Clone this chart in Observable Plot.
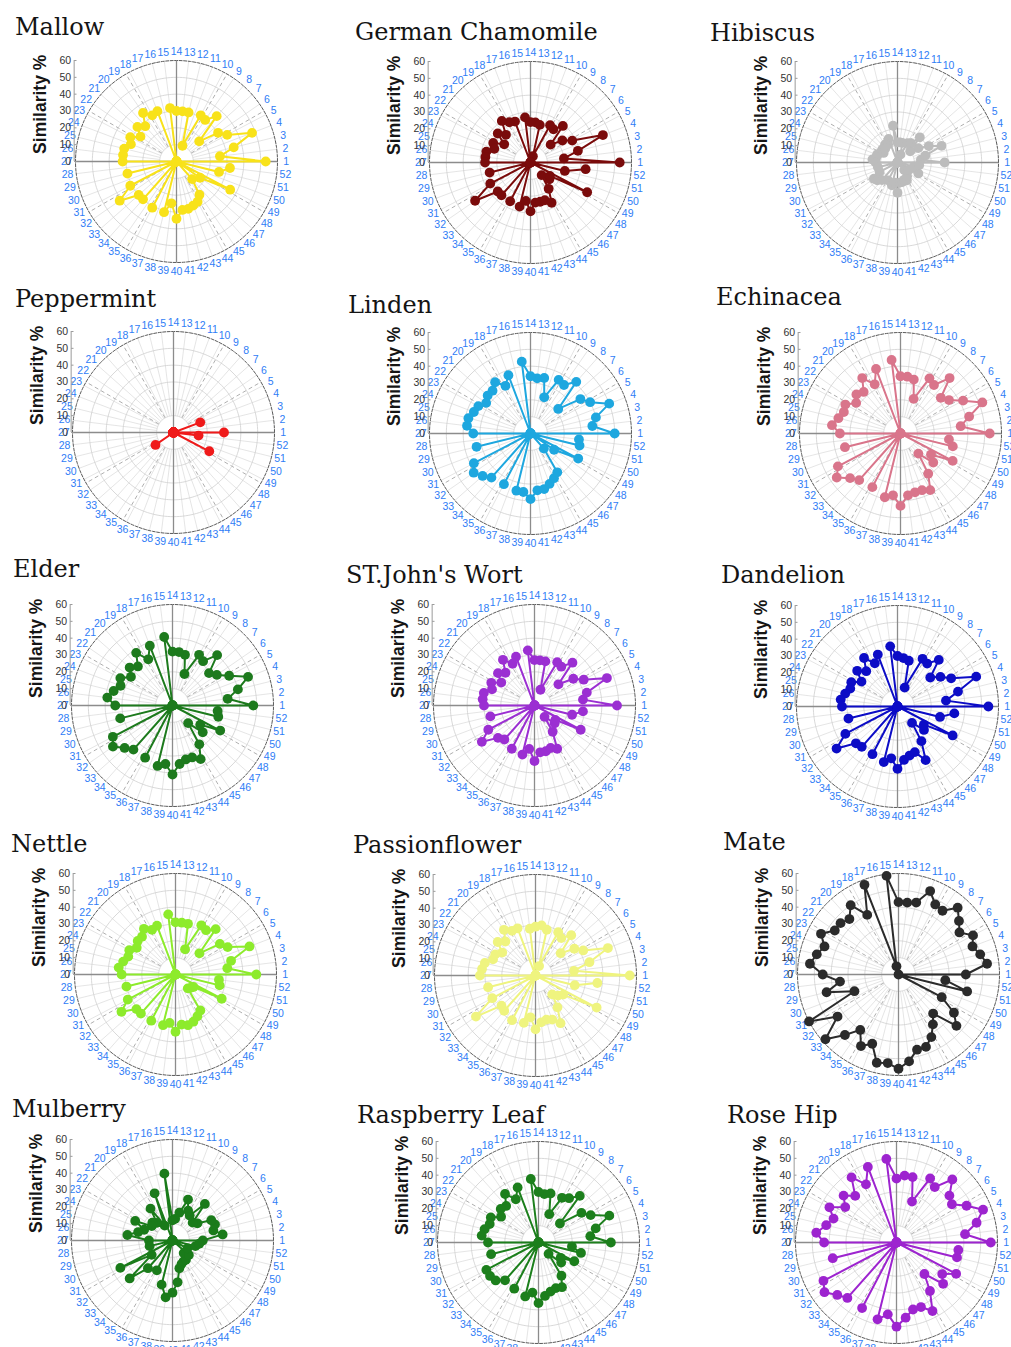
<!DOCTYPE html>
<html>
<head>
<meta charset="utf-8">
<script src="https://cdn.jsdelivr.net/npm/d3@7"></script>
<script src="https://cdn.jsdelivr.net/npm/@observablehq/plot@0.6"></script>
<style>
  html, body { margin: 0; padding: 0; background: #fff; }
  #page { position: relative; width: 1011px; height: 1347px; overflow: hidden; background: #fff; }
  .title { position: absolute; font-family: "DejaVu Serif", serif; font-size: 24px; line-height: 24px; color: #141414; white-space: nowrap; }
  .panel { position: absolute; }
</style>
</head>
<body>
<div id="page"></div>
<script>
// Weekly similarity (%) for each herb, weeks 1..52; 0 = no similarity that week
const mallow       = [53,26,35,48,34,30,18,36,30,31,10,30,30,30,32,0,32,31,35,28,31,26,31,29,32,32,32,0,30,0,31,41,30,30,0,31,0,31,25,34,29,29,28,27,24,14,0,17,36,0,26,32];
const chamomile    = [53,20,29,46,28,23,16,29,24,25,4,23,24,24,27,0,26,27,30,22,26,19,25,23,27,27,27,0,25,0,27,40,26,26,0,26,0,27,23,29,24,24,24,27,19,10,15,14,38,0,21,33];
const hibiscus     = [28,14,17,28,21,15,10,20,14,13,5,12,12,12,22,0,15,12,13,11,12,10,12,13,13,15,13,0,12,0,12,17,16,14,0,12,0,14,12,18,12,12,11,12,10,6,0,8,14,0,10,13];
const peppermint   = [30,0,0,17,0,0,0,0,0,0,0,0,0,0,0,0,0,0,0,0,0,0,0,0,0,0,0,0,0,0,0,13,0,0,0,0,0,0,0,0,0,0,0,0,0,0,0,0,24,0,0,15];
const linden       = [50,37,40,50,40,36,22,41,35,36,23,34,33,34,43,0,37,32,37,34,34,32,35,36,38,38,34,0,33,0,38,41,38,35,0,34,0,35,35,39,34,34,32,30,28,12,0,17,32,0,30,29];
const echinacea    = [53,36,42,52,42,35,32,44,35,37,22,33,34,34,44,0,41,33,40,33,35,32,37,36,38,41,36,0,34,0,42,46,40,37,0,36,0,39,37,43,37,36,36,38,29,16,26,22,35,0,32,29];
const elder        = [48,33,40,48,38,32,29,40,32,34,20,31,32,32,41,0,38,31,38,31,34,30,35,33,36,39,34,0,32,0,40,43,38,35,0,35,0,37,35,41,35,33,33,36,28,14,24,20,32,0,28,27];
const stJohns      = [49,29,32,46,33,28,19,34,28,29,10,27,27,27,33,0,31,28,33,26,29,24,29,27,31,31,30,0,27,0,31,38,29,27,0,29,0,30,26,33,28,28,27,29,19,9,16,15,31,0,23,29];
const dandelion    = [54,29,37,50,36,31,26,37,31,32,12,28,29,30,36,0,33,29,35,28,32,26,31,30,32,34,33,0,30,0,35,44,33,32,0,32,0,34,31,37,32,30,29,36,25,13,21,19,37,0,26,34];
const nettle       = [48,31,34,47,35,32,19,36,32,33,16,31,31,31,36,0,31,30,33,30,30,28,31,30,32,34,32,0,30,0,32,39,31,31,0,31,0,31,29,34,30,31,30,28,26,11,12,13,31,0,27,26];
const passionflower= [56,23,33,46,32,28,20,32,27,29,6,28,30,29,28,0,30,30,33,27,30,24,27,27,31,32,33,0,29,0,29,43,27,28,0,30,0,29,25,32,28,27,28,32,23,15,18,20,41,0,24,37];
const mate         = [40,53,50,47,50,44,48,53,46,47,53,44,43,43,59,5,57,40,50,44,46,46,52,47,50,53,45,35,44,28,60,44,58,48,40,48,44,54,53,56,52,46,46,42,36,31,46,40,29,0,42,28];
const mulberry     = [18,30,25,27,26,18,16,29,18,20,26,17,13,12,40,0,30,10,23,14,16,15,25,18,21,27,14,0,14,0,35,15,34,22,0,20,0,27,34,31,25,17,15,14,14,10,13,0,10,0,14,16];
const raspberry    = [43,31,35,45,35,31,17,37,32,30,18,30,29,30,38,0,35,29,35,29,30,27,32,31,33,34,30,0,29,0,35,35,34,30,0,31,0,33,30,36,32,30,29,30,24,9,18,16,24,0,26,20];
const roseHip      = [56,41,49,55,47,40,42,50,40,43,26,40,40,38,50,0,48,39,47,37,42,37,45,40,43,48,43,0,39,0,49,52,47,44,0,44,0,47,43,50,45,41,41,46,35,25,37,33,40,0,37,37];

const herbNames = ["Mallow", "German Chamomile", "Hibiscus", "Peppermint", "Linden", "Echinacea",
  "Elder", "ST.John's Wort", "Dandelion", "Nettle", "Passionflower", "Mate",
  "Mulberry", "Raspberry Leaf", "Rose Hip"];
const herbSeries = [mallow, chamomile, hibiscus, peppermint, linden, echinacea,
  elder, stJohns, dandelion, nettle, passionflower, mate, mulberry, raspberry, roseHip];
const herbColors = ["#f8e21a", "#7a0b0b", "#bcbcbc", "#ef1a1a", "#1ea7df", "#d9758b",
  "#1d7a1d", "#9b2fd2", "#0c0cc6", "#8deb2c", "#eff47f", "#2b2b2b", "#1a7b1a", "#1c7f1c", "#9d24cf"];

// axis labels
const weeks = d3.range(1, 53);
const radialTicks = [0, 10, 20, 30, 40, 50, 60];
const ringValues = [10, 20, 30, 40, 50];

// page layout: plot centre (cx, cy) and title anchor (tx, baseline ty)
const layout = [
  {cx: 176, cy: 161, tx: 15, ty: 35}, {cx: 530, cy: 162, tx: 355, ty: 40}, {cx: 897, cy: 162, tx: 710, ty: 41},
  {cx: 173, cy: 432, tx: 15, ty: 307}, {cx: 530, cy: 433, tx: 348, ty: 313}, {cx: 900, cy: 433, tx: 716, ty: 305},
  {cx: 172, cy: 705, tx: 13, ty: 577}, {cx: 534, cy: 705, tx: 346, ty: 583}, {cx: 897, cy: 706, tx: 721, ty: 583},
  {cx: 175, cy: 974, tx: 11, ty: 852}, {cx: 535, cy: 975, tx: 353, ty: 853}, {cx: 898, cy: 974, tx: 723, ty: 850},
  {cx: 172, cy: 1240, tx: 12, ty: 1117}, {cx: 538, cy: 1242, tx: 357, ty: 1123}, {cx: 896, cy: 1242, tx: 727, ty: 1123}
];

const RADIUS_PX = 101;   // pixel radius of the 60 % ring
const R_MAX = 60;
const theta = w => (w - 1) * 2 * Math.PI / 52;   // week 1 at east, counter-clockwise
const px = (r, a) => r * Math.cos(a);
const py = (r, a) => r * Math.sin(a);
const circle = r => d3.range(0, 361, 2).map(deg => ({x: px(r, deg * Math.PI / 180), y: py(r, deg * Math.PI / 180)}));

const page = document.getElementById("page");

function drawPanel(name, values, color, pos) {
  const W = 300, H = 250, ox = 168, oy = 124;
  // polyline starts at the origin and runs through the weeks in order
  const pts = [{x: 0, y: 0}].concat(values.map((v, i) => ({week: i + 1, value: v, x: px(v, theta(i + 1)), y: py(v, theta(i + 1))})));
  const dashedSpokes = [30, 60, 120, 150, 210, 240, 300, 330].map(d => d * Math.PI / 180);

  const svg = Plot.plot({
    width: W, height: H, margin: 0,
    style: {background: "transparent", overflow: "visible", fontFamily: "'Liberation Sans', Arial, sans-serif"},
    x: {domain: [-R_MAX, R_MAX], range: [ox - RADIUS_PX, ox + RADIUS_PX], axis: null},
    y: {domain: [-R_MAX, R_MAX], range: [oy + RADIUS_PX, oy - RADIUS_PX], axis: null},
    marks: [
      // week spokes
      Plot.link(weeks, {x1: w => px(10, theta(w)), y1: w => py(10, theta(w)), x2: w => px(R_MAX, theta(w)), y2: w => py(R_MAX, theta(w)), stroke: "#dadada", strokeWidth: 0.7}),
      Plot.link(dashedSpokes, {x1: a => px(10, a), y1: a => py(10, a), x2: a => px(R_MAX, a), y2: a => py(R_MAX, a), stroke: "#9a9a9a", strokeWidth: 0.8, strokeDasharray: "4,3"}),
      // rings
      ...ringValues.map(r => Plot.line(circle(r), {x: "x", y: "y", stroke: "#cfcfcf", strokeWidth: 0.8})),
      Plot.line(circle(R_MAX), {x: "x", y: "y", stroke: "#5a5a5a", strokeWidth: 1, strokeDasharray: "3,1.5"}),
      // main axes through the centre
      Plot.link([0, Math.PI / 2], {x1: a => px(-R_MAX, a), y1: a => py(-R_MAX, a), x2: a => px(R_MAX, a), y2: a => py(R_MAX, a), stroke: "#8c8c8c", strokeWidth: 1.3}),
      // week labels
      Plot.text(weeks, {x: w => px(65.2, theta(w)), y: w => py(65.2, theta(w)), text: d => String(d), fill: "#2f7df6", fontSize: 10.5, textAnchor: "middle", lineAnchor: "middle"}),
      // radial value axis on the left
      Plot.ruleX([-R_MAX - 0.8], {y1: 0, y2: R_MAX, stroke: "#9a9a9a", strokeWidth: 1}),
      Plot.link(radialTicks, {x1: -R_MAX - 0.8, x2: -R_MAX + 0.6, y1: d => d, y2: d => d, stroke: "#9a9a9a"}),
      Plot.text(radialTicks, {x: -R_MAX - 0.8, y: d => d, text: d => String(d), dx: -3, textAnchor: "end", fill: "#333", fontSize: 10.5}),
      Plot.text(["Similarity %"], {x: -R_MAX - 21, y: 34, text: d => d, rotate: -90, fontSize: 17.5, fontWeight: "bold", fill: "#151515"}),
      // similarity series
      Plot.line(pts, {x: "x", y: "y", stroke: color, strokeWidth: 2, curve: "linear"}),
      Plot.dot(pts.slice(1), {x: "x", y: "y", r: 4.9, fill: color, stroke: "none"})
    ]
  });
  svg.classList.add("panel");
  svg.style.left = (pos.cx - ox) + "px";
  svg.style.top = (pos.cy - oy) + "px";
  svg.style.maxWidth = "none";
  page.appendChild(svg);

  const t = document.createElement("div");
  t.className = "title";
  t.textContent = name;
  t.style.left = pos.tx + "px";
  t.style.top = (pos.ty - 20) + "px";
  page.appendChild(t);
}

herbNames.forEach((name, i) => drawPanel(name, herbSeries[i], herbColors[i], layout[i]));
</script>
</body>
</html>
